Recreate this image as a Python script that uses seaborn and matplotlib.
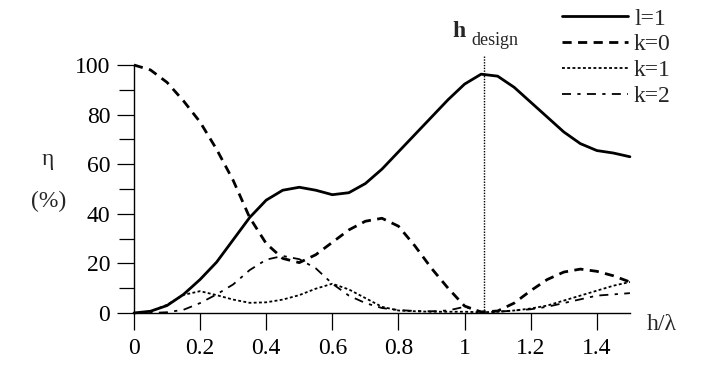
import numpy as np
import pandas as pd
import matplotlib
matplotlib.use("Agg")
import matplotlib.pyplot as plt
import seaborn as sns

# ---- data ----
h_over_lambda = [0.00, 0.05, 0.10, 0.15, 0.20, 0.25, 0.30, 0.35, 0.40, 0.45,
                 0.50, 0.55, 0.60, 0.65, 0.70, 0.75, 0.80, 0.85, 0.90, 0.95,
                 1.00, 1.05, 1.10, 1.15, 1.20, 1.25, 1.30, 1.35, 1.40, 1.45, 1.50]
eta_l1 = [0, 0.7, 3, 7.5, 13.5, 20.5, 29.5, 38.5, 45.5, 49.5,
          50.7, 49.5, 47.7, 48.5, 52.2, 58, 65, 72, 79, 86,
          92.3, 96.3, 95.5, 91, 85, 79, 73, 68.3, 65.5, 64.5, 63]
eta_k0 = [100, 98, 93, 85.5, 77, 66, 53.5, 38.5, 28, 22,
          20.3, 23.5, 28.5, 33.5, 37, 38.2, 35, 27, 18, 10,
          2.8, 0.4, 0.8, 4, 9, 13.5, 16.5, 17.7, 16.8, 15, 12.5]
eta_k1 = [0, 0.6, 3.3, 7.3, 8.8, 7.2, 5.4, 4.1, 4.3, 5.4,
          7.2, 9.8, 11.8, 9.5, 6, 2.5, 1, 0.7, 0.5, 0.5,
          0.5, 0.3, 0.5, 1, 1.8, 3, 5, 7, 9, 11, 12.5]
eta_k2 = [0, 0, 0.3, 1.3, 4, 7.5, 11.5, 17.3, 21.5, 23,
          21.7, 18, 11.8, 7, 4, 2, 1.2, 0.8, 0.7, 1,
          2.5, 0.5, 0.5, 1, 1.5, 2.5, 4, 5.5, 7, 7.5, 8]
series_labels = ["l=1", "k=0", "k=1", "k=2"]
h_design = 1.06
x_ticks = [0, 0.2, 0.4, 0.6, 0.8, 1.0, 1.2, 1.4]
x_tick_labels = ["0", "0.2", "0.4", "0.6", "0.8", "1", "1.2", "1.4"]
y_ticks = [0, 20, 40, 60, 80, 100]

sns.set_theme(style="ticks")
plt.rcParams["font.family"] = ["Liberation Serif", "DejaVu Serif"]
plt.rcParams["mathtext.fontset"] = "stix"

fig = plt.figure(figsize=(7.05, 3.65), dpi=100)
ax = fig.add_axes([0.190, 0.1425, 0.7035, 0.7134])

styles = [
    dict(lw=2.0, linestyle="-"),
    dict(lw=2.0, linestyle=(0, (3.3, 2.3))),
    dict(lw=1.3, linestyle=(0, (1.6, 1.3))),
    dict(lw=1.3, linestyle=(0, (5, 3.5, 1.8, 3.5))),
]
all_series = [eta_l1, eta_k0, eta_k1, eta_k2]
for vals, lab, st in zip(all_series, series_labels, styles):
    df = pd.DataFrame({"x": h_over_lambda, "y": vals})
    sns.lineplot(data=df, x="x", y="y", ax=ax, color="black", label=lab,
                 clip_on=False, solid_joinstyle="round",
                 dash_joinstyle="round", **st)
handles = ax.get_lines()[:4]
if ax.get_legend():
    ax.get_legend().remove()

# design line
ax.plot([h_design, h_design], [0, 104], color="black", lw=1.0,
        linestyle=(0, (1, 1)), clip_on=False)

ax.set_xlim(0, 1.5)
ax.set_ylim(0, 105)
ax.set_xticks(x_ticks)
ax.set_xticklabels(x_tick_labels)
ax.set_yticks(y_ticks)
ax.set_yticks([10, 30, 50, 70, 90], minor=True)
ax.spines["top"].set_visible(False)
ax.spines["right"].set_visible(False)
ax.spines["left"].set_bounds(0, 100)
for s in ["left", "bottom"]:
    ax.spines[s].set_linewidth(1.0)
    ax.spines[s].set_color("black")
ax.tick_params(axis="both", which="major", direction="out", length=12,
               width=0.9, labelsize=17, colors="black")
ax.tick_params(axis="x", pad=6)
ax.tick_params(axis="y", pad=5)
ax.tick_params(axis="y", which="minor", direction="out", length=11, width=0.9,
               colors="black")
ax.set_xlabel("")
ax.set_ylabel("")
ax.set_facecolor("white")
ax.grid(False)

fig.text(0.939, 0.11, "h/λ", fontsize=17, ha="center", va="center")
fig.text(0.068, 0.562, "η", fontsize=17, ha="center", va="center")
fig.text(0.0695, 0.447, "(%)", fontsize=17, ha="center", va="center")
fig.text(0.651, 0.915, "h", fontsize=17, fontweight="bold", ha="center", va="center")
fig.text(0.668, 0.888, "design", fontsize=13, ha="left", va="center")

leg = fig.legend(handles, series_labels, loc="upper left",
                 bbox_to_anchor=(562 / 705, 1 - 8 / 365), frameon=False,
                 fontsize=17, handlelength=2.8, handletextpad=0.25,
                 labelspacing=0.18, borderpad=0, borderaxespad=0)

fig.savefig("out.png", dpi=100, facecolor="white")
